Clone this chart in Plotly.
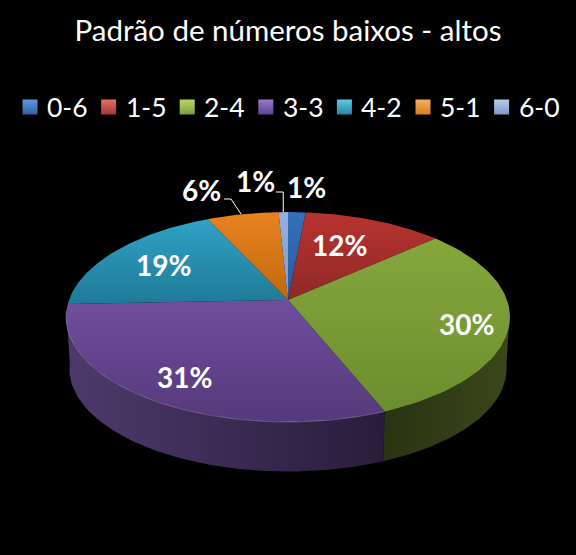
import numpy as np
import plotly.graph_objects as go

categories = ["0-6", "1-5", "2-4", "3-3", "4-2", "5-1", "6-0"]
shares = [1.49, 11.9, 30.49, 30.51, 18.71, 6.1, 0.8]
title_text = "Padrão de números baixos - altos"

legend_colors = ["#2f62a6", "#a83532", "#7f9e3a", "#5f4490", "#2389a8", "#d97a1e", "#7f98c8"]
legend_light = ["#5f97dc", "#e0706c", "#b8d868", "#9a7cc8", "#5cc8e4", "#f8b060", "#b8ccec"]
top_light = ["#3471ba", "#b8332f", "#86a73c", "#6f4e9c", "#31a2c6", "#e8831f", "#97b0dc"]
top_dark = ["#27599b", "#8e2927", "#6c8d2e", "#56397b", "#1f7a97", "#c2680f", "#7f9ac8"]
side_left = {2: "#2a3312", 3: "#4d3a6c"}
side_right = {2: "#3a4719", 3: "#291c3b"}

# projection of the pie disc onto the picture
CX, APEX_Y, A, B, K = 288.0, 300.0, 219.0, 102.2, 0.162
DEPTH_SCALE, DEPTH = 0.985, 52.0
FRONT_LEFT, FRONT_RIGHT = 264.0, 97.0


def top_xy(theta):
    t = np.radians(theta)
    u, v = np.sin(t), np.cos(t)
    w = 1 + K * v
    return CX + A * u / w, APEX_Y - B * v / w


def low_xy(theta):
    x, y = top_xy(theta)
    return CX + (x - CX) * DEPTH_SCALE, APEX_Y + (y - APEX_Y) * 0.98 + DEPTH


edges = np.concatenate([[0], np.cumsum(shares)]) * 3.6

fig = go.Figure()


def face(x, y, kind, c0, c1, start, stop):
    fig.add_trace(go.Scatter(
        x=x, y=y, mode="lines", fill="toself", line=dict(width=0),
        fillgradient=dict(type=kind, colorscale=[[0, c0], [1, c1]], start=start, stop=stop),
        showlegend=False, hoverinfo="skip"))


# sides
for i in side_left:
    a0 = max(edges[i], FRONT_RIGHT)
    a1 = min(edges[i + 1], FRONT_LEFT)
    th = np.linspace(a0, a1, 80)
    xt, yt = top_xy(th)
    xb, yb = low_xy(th[::-1])
    x = np.concatenate([xt, xb])
    y = np.concatenate([yt, yb])
    face(x, y, "horizontal", side_left[i], side_right[i], float(x.min()), float(x.max()))

# tops: each slice shades over its own height
for i in range(len(shares)):
    th = np.linspace(edges[i], edges[i + 1], 80)
    xt, yt = top_xy(th)
    x = np.concatenate([[CX], xt, [CX]])
    y = np.concatenate([[APEX_Y], yt, [APEX_Y]])
    face(x, y, "vertical", top_dark[i], top_light[i], float(y.max()), float(y.min()))

# pale rim on the front edge
th = np.linspace(edges[3], FRONT_LEFT, 80)
xt, yt = top_xy(th)
fig.add_trace(go.Scatter(x=xt, y=yt, mode="lines", line=dict(color="rgba(200,185,225,0.35)", width=1),
                         showlegend=False, hoverinfo="skip"))

# legend, laid out by hand to keep the reference's swatch-to-text spacing
LEG_X0, LEG_STEP, LEG_Y = 30.0, 78.6, 107.0
for i, (name, col, light) in enumerate(zip(categories, legend_colors, legend_light)):
    lx = LEG_X0 + i * LEG_STEP
    fig.add_trace(go.Scatter(x=[lx], y=[LEG_Y], mode="markers", name=name, showlegend=False,
                             marker=dict(symbol="square", size=15, color=light,
                                         gradient=dict(type="vertical", color=col)),
                             hoverinfo="skip"))
    fig.add_annotation(x=lx + 15, y=LEG_Y, text=name, showarrow=False, xanchor="left", yanchor="middle",
                       font=dict(family="Lato", size=26.5, color="white"))

# leader lines
rim_6 = top_xy(edges[5] + (edges[6] - edges[5]) * 0.48)
rim_1 = top_xy((edges[6] + edges[7]) / 2)
fig.add_trace(go.Scatter(x=[224, 231, rim_6[0]], y=[199, 199, rim_6[1]], mode="lines",
                         line=dict(color="white", width=1), showlegend=False, hoverinfo="skip"))
fig.add_trace(go.Scatter(x=[276, rim_1[0], rim_1[0]], y=[192, 192, rim_1[1]], mode="lines",
                         line=dict(color="white", width=1), showlegend=False, hoverinfo="skip"))

# percent labels
label_xy = [(306, 187), (339, 245), (466, 324), (184, 377), (163, 265), (201, 190), (255, 181)]
for s, (lx, ly) in zip(shares, label_xy):
    fig.add_annotation(x=lx, y=ly, text=f"<b>{round(s)}%</b>", showarrow=False,
                       font=dict(family="Lato", size=28, color="white"), xanchor="center", yanchor="middle")

fig.update_layout(
    width=576, height=555, margin=dict(l=0, r=0, t=0, b=0),
    paper_bgcolor="black", plot_bgcolor="black", showlegend=False,
    title=dict(text=title_text, x=0.5, xanchor="center", y=1 - 31 / 555, yanchor="middle",
               font=dict(family="Lato", size=29.5, color="white")),
    xaxis=dict(range=[0, 576], visible=False, fixedrange=True),
    yaxis=dict(range=[555, 0], visible=False, fixedrange=True),
)
fig.write_html("out.html", config={"displayModeBar": False},
               post_script="document.body.style.margin='0';document.body.style.background='black';")
